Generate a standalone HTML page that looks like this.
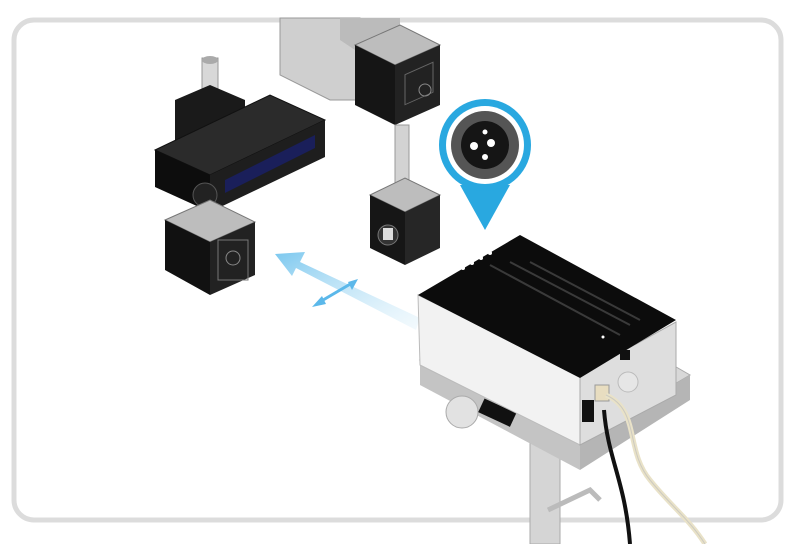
<!DOCTYPE html>
<html><head><meta charset="utf-8"><style>
html,body{margin:0;padding:0;background:#fff;width:799px;height:544px;overflow:hidden}
</style></head><body>
<svg width="799" height="544" viewBox="0 0 799 544" xmlns="http://www.w3.org/2000/svg">
<defs>
<linearGradient id="ar" x1="1" y1="1" x2="0" y2="0"><stop offset="0" stop-color="#d8eef9" stop-opacity="0.3"/><stop offset="1" stop-color="#7cc8ef"/></linearGradient>
</defs>
<rect x="14" y="20" width="767" height="500" rx="20" fill="#fff" stroke="#dcdcdc" stroke-width="5"/>

<!-- top gray block -->
<polygon points="280,18 360,18 360,100 330,100 280,75" fill="#cfcfcf" stroke="#999"/>
<polygon points="340,18 400,18 400,30 355,50 340,40" fill="#bbb"/>
<!-- upper right black box -->
<polygon points="355,45 400,25 440,45 395,65" fill="#bdbdbd" stroke="#777"/>
<polygon points="355,45 395,65 395,125 355,105" fill="#151515"/>
<polygon points="395,65 440,45 440,105 395,125" fill="#222"/>
<rect x="405" y="75" width="28" height="30" fill="none" stroke="#666" transform="skewY(-24) translate(0,180)"/>
<circle cx="425" cy="90" r="6" fill="none" stroke="#888"/>
<!-- pole -->
<rect x="395" y="125" width="14" height="60" fill="#d3d3d3" stroke="#999"/>
<!-- lower middle black box -->
<polygon points="370,195 405,178 440,195 405,212" fill="#bdbdbd" stroke="#777"/>
<polygon points="370,195 405,212 405,265 370,248" fill="#161616"/>
<polygon points="405,212 440,195 440,248 405,265" fill="#262626"/>
<circle cx="388" cy="235" r="10" fill="#333" stroke="#777"/>
<rect x="383" y="228" width="10" height="12" fill="#ddd"/>
<!-- left assembly pole -->
<rect x="202" y="58" width="16" height="95" fill="#d8d8d8" stroke="#999"/>
<ellipse cx="210" cy="60" rx="8" ry="4" fill="#aaa"/>
<polygon points="175,100 210,85 245,100 245,140 210,155 175,140" fill="#1a1a1a"/>
<!-- long bar -->
<polygon points="155,150 270,95 325,120 210,175" fill="#2b2b2b" stroke="#111"/>
<polygon points="155,150 210,175 210,212 155,187" fill="#0d0d0d"/>
<polygon points="210,175 325,120 325,157 210,212" fill="#1e1e1e"/>
<polygon points="225,180 315,135 315,148 225,193" fill="#1a1f5a"/>
<circle cx="205" cy="195" r="12" fill="#222" stroke="#555"/>
<rect x="205" y="205" width="14" height="15" fill="#ccc"/>
<!-- left lower box -->
<polygon points="165,220 210,200 255,222 210,242" fill="#bdbdbd" stroke="#777"/>
<polygon points="165,220 210,242 210,295 165,270" fill="#111"/>
<polygon points="210,242 255,222 255,275 210,295" fill="#222"/>
<rect x="218" y="240" width="30" height="40" fill="none" stroke="#777"/>
<circle cx="233" cy="258" r="7" fill="none" stroke="#888"/>

<!-- blue arrows -->
<polygon points="420,318 300,262 305,252 275,254 292,276 296,268 416,330" fill="url(#ar)"/>
<line x1="318" y1="303" x2="352" y2="283" stroke="#5bb8ea" stroke-width="3"/>
<polygon points="312,307 322,296 326,304" fill="#5bb8ea"/>
<polygon points="358,279 348,282 352,290" fill="#5bb8ea"/>

<!-- callout -->
<path d="M460,185 L485,230 L510,185 Z" fill="#29a8e0"/>
<circle cx="485" cy="145" r="46" fill="#29a8e0"/>
<circle cx="485" cy="145" r="39" fill="#fff"/>
<circle cx="485" cy="145" r="34" fill="#555"/>
<circle cx="485" cy="145" r="24" fill="#151515"/>
<circle cx="474" cy="146" r="4" fill="#fff"/>
<circle cx="491" cy="143" r="4" fill="#fff"/>
<circle cx="485" cy="157" r="3" fill="#fff"/>
<circle cx="485" cy="132" r="2.5" fill="#fff"/>

<!-- stand pole -->
<rect x="530" y="440" width="30" height="104" fill="#d5d5d5" stroke="#aaa"/>
<polyline points="548,510 590,490 600,500" fill="none" stroke="#bbb" stroke-width="5"/>
<!-- platform -->
<polygon points="420,360 560,300 690,375 580,440" fill="#d8d8d8" stroke="#aaa"/>
<polygon points="420,360 580,440 580,470 420,385" fill="#c4c4c4"/>
<polygon points="580,440 690,375 690,400 580,470" fill="#b5b5b5"/>
<circle cx="462" cy="412" r="16" fill="#e2e2e2" stroke="#aaa"/>
<rect x="480" y="405" width="35" height="15" fill="#111" transform="rotate(25 497 412)"/>
<!-- main device -->
<polygon points="418,295 420,365 580,445 580,375" fill="#f2f2f2" stroke="#bbb"/>
<polygon points="580,375 676,322 676,395 580,445" fill="#dedede" stroke="#aaa"/>
<polygon points="418,295 520,235 676,320 580,378" fill="#0c0c0c"/>
<g stroke="#3a3a3a" stroke-width="2">
<line x1="490" y1="265" x2="620" y2="335"/><line x1="510" y1="262" x2="630" y2="325"/><line x1="530" y1="262" x2="640" y2="320"/>
</g>
<g fill="#fff"><circle cx="463" cy="268" r="2"/><circle cx="472" cy="263" r="2"/><circle cx="481" cy="258" r="2"/><circle cx="490" cy="253" r="2"/><circle cx="603" cy="337" r="1.5"/></g>
<circle cx="628" cy="382" r="10" fill="#e6e6e6" stroke="#bbb"/>
<rect x="582" y="400" width="12" height="22" fill="#111"/>
<rect x="595" y="385" width="14" height="16" fill="#e8ddc0" stroke="#999"/>
<rect x="620" y="350" width="10" height="10" fill="#111"/>
<!-- cables -->
<path d="M604,410 C608,460 625,480 630,544" fill="none" stroke="#111" stroke-width="4"/>
<path d="M606,395 C640,410 625,450 650,480 C670,505 690,520 705,544" fill="none" stroke="#e9e2c8" stroke-width="5"/>
<path d="M606,395 C640,410 625,450 650,480 C670,505 690,520 705,544" fill="none" stroke="#bbb" stroke-width="1" opacity=".6"/>
</svg>
</body></html>
